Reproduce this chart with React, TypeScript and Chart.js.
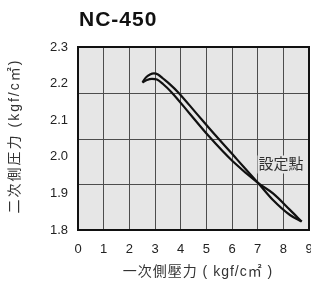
import React, { useEffect, useRef } from "react";
import { Chart, registerables } from "chart.js";

Chart.register(...registerables);

const chartTitle = "NC-450";
const xAxisTitle = "一次側壓力 ( kgf/c㎡ )";
const yAxisTitle = "二次側圧力 (kgf/c㎡)";
const setPointLabel = "設定點";
const setPointX = 7.91;
const setPointY = 1.979;

const xTickValues = [0, 1, 2, 3, 4, 5, 6, 7, 8, 9];
const yTickValues = [1.8, 1.9, 2.0, 2.1, 2.2, 2.3];
const gridRowCount = 4;

// outer / upper branch of the hysteresis loop
const upperX = [2.513, 2.649, 2.805, 2.961, 3.117, 3.311, 3.584, 3.907, 4.597, 5.337, 6.194, 7.024, 7.597, 8.259, 8.715];
const upperY = [2.203, 2.217, 2.225, 2.228, 2.225, 2.214, 2.198, 2.176, 2.12, 2.06, 1.993, 1.928, 1.882, 1.841, 1.823];
// inner / lower branch
const lowerX = [2.513, 2.688, 2.883, 3.078, 3.311, 3.65, 4.363, 5.076, 6.038, 7.024, 7.597, 8.259, 8.715];
const lowerY = [2.203, 2.21, 2.213, 2.211, 2.199, 2.176, 2.117, 2.058, 1.987, 1.928, 1.9, 1.855, 1.823];

const LATIN = "'Liberation Sans', Arial, sans-serif";
const CJK = "'Liberation Sans', 'Noto Sans CJK JP', sans-serif";
const PLOT_BG = "#e6e6e6";
const GRID = "#4d4d4d";

const decor = {
  id: "decor",
  beforeDraw(chart: any) {
    const { ctx, chartArea: a } = chart;
    ctx.save();
    ctx.fillStyle = PLOT_BG;
    ctx.fillRect(a.left, a.top, a.right - a.left, a.bottom - a.top);
    // the picture's grid has 4 rows, independent of the 6 tick labels
    ctx.strokeStyle = GRID;
    ctx.lineWidth = 1;
    ctx.beginPath();
    for (let i = 1; i < gridRowCount; i++) {
      const y = Math.round(a.top + ((a.bottom - a.top) * i) / gridRowCount) + 0.5;
      ctx.moveTo(a.left, y);
      ctx.lineTo(a.right, y);
    }
    ctx.stroke();
    ctx.restore();
  },
  beforeDatasetsDraw(chart: any) {
    const { ctx, scales } = chart;
    const px = scales.x.getPixelForValue(setPointX);
    const py = scales.y.getPixelForValue(setPointY);
    ctx.save();
    ctx.font = `15px ${CJK}`;
    const w = ctx.measureText(setPointLabel).width;
    ctx.fillStyle = PLOT_BG;
    ctx.fillRect(px - w / 2 - 1, py - 9, w + 2, 18);
    ctx.fillStyle = "#333";
    ctx.textAlign = "center";
    ctx.textBaseline = "middle";
    ctx.fillText(setPointLabel, px, py);
    ctx.restore();
  },
  afterDraw(chart: any) {
    const { ctx, chartArea: a } = chart;
    ctx.save();
    ctx.strokeStyle = "#111";
    ctx.lineWidth = 2;
    ctx.strokeRect(a.left, a.top, a.right - a.left, a.bottom - a.top);

    ctx.fillStyle = "#111";
    ctx.font = `bold 21px ${LATIN}`;
    (ctx as any).letterSpacing = "1px";
    ctx.textAlign = "left";
    ctx.textBaseline = "alphabetic";
    ctx.fillText(chartTitle, 79, 26);

    ctx.fillStyle = "#333";
    ctx.font = `14px ${CJK}`;
    (ctx as any).letterSpacing = "1px";
    ctx.textAlign = "center";
    ctx.textBaseline = "middle";
    ctx.fillText(xAxisTitle, 198, 272);

    (ctx as any).letterSpacing = "2px";
    ctx.translate(15, 136);
    ctx.rotate(-Math.PI / 2);
    ctx.fillText(yAxisTitle, 0, 0);
    ctx.restore();
  },
};

export default function App() {
  const ref = useRef<HTMLCanvasElement | null>(null);

  useEffect(() => {
    if (!ref.current) return;
    const toPts = (xs: number[], ys: number[]) => xs.map((x, i) => ({ x, y: ys[i] }));
    const lineStyle = {
      borderColor: "#111",
      borderWidth: 2.2,
      pointRadius: 0,
      cubicInterpolationMode: "monotone" as const,
      fill: false,
    };
    const chart = new Chart(ref.current, {
      type: "line",
      data: {
        datasets: [
          { data: toPts(upperX, upperY), ...lineStyle },
          { data: toPts(lowerX, lowerY), ...lineStyle },
        ],
      },
      options: {
        animation: false,
        responsive: false,
        parsing: false as any,
        layout: { autoPadding: false, padding: { top: 47, right: 2, left: 0, bottom: 0 } },
        plugins: { legend: { display: false }, title: { display: false }, tooltip: { enabled: false } },
        scales: {
          x: {
            type: "linear",
            min: 0,
            max: 9,
            afterBuildTicks: (s: any) => {
              s.ticks = xTickValues.map((v) => ({ value: v }));
            },
            afterFit: (s: any) => {
              s.height = 51;
              s.paddingLeft = 0;
              s.paddingRight = 0;
            },
            grid: { color: GRID, lineWidth: 1, drawTicks: false },
            border: { display: false },
            ticks: { padding: 12, color: "#222", maxRotation: 0, autoSkip: false, font: { family: LATIN, size: 13 }, callback: (v: any) => String(v) },
          },
          y: {
            type: "linear",
            min: 1.8,
            max: 2.3,
            afterBuildTicks: (s: any) => {
              s.ticks = yTickValues.map((v) => ({ value: v }));
            },
            afterFit: (s: any) => {
              s.width = 78;
              s.paddingTop = 0;
              s.paddingBottom = 0;
            },
            grid: { display: false, drawTicks: false },
            border: { display: false },
            ticks: { padding: 10, color: "#222", font: { family: LATIN, size: 13 }, callback: (v: any) => Number(v).toFixed(1) },
          },
        } as any,
      },
      plugins: [decor],
    });
    return () => chart.destroy();
  }, []);

  return (
    <div style={{ position: "absolute", left: 0, top: 0, width: 311, height: 281 }}>
      <canvas ref={ref} width={311} height={281} style={{ display: "block" }} />
    </div>
  );
}
